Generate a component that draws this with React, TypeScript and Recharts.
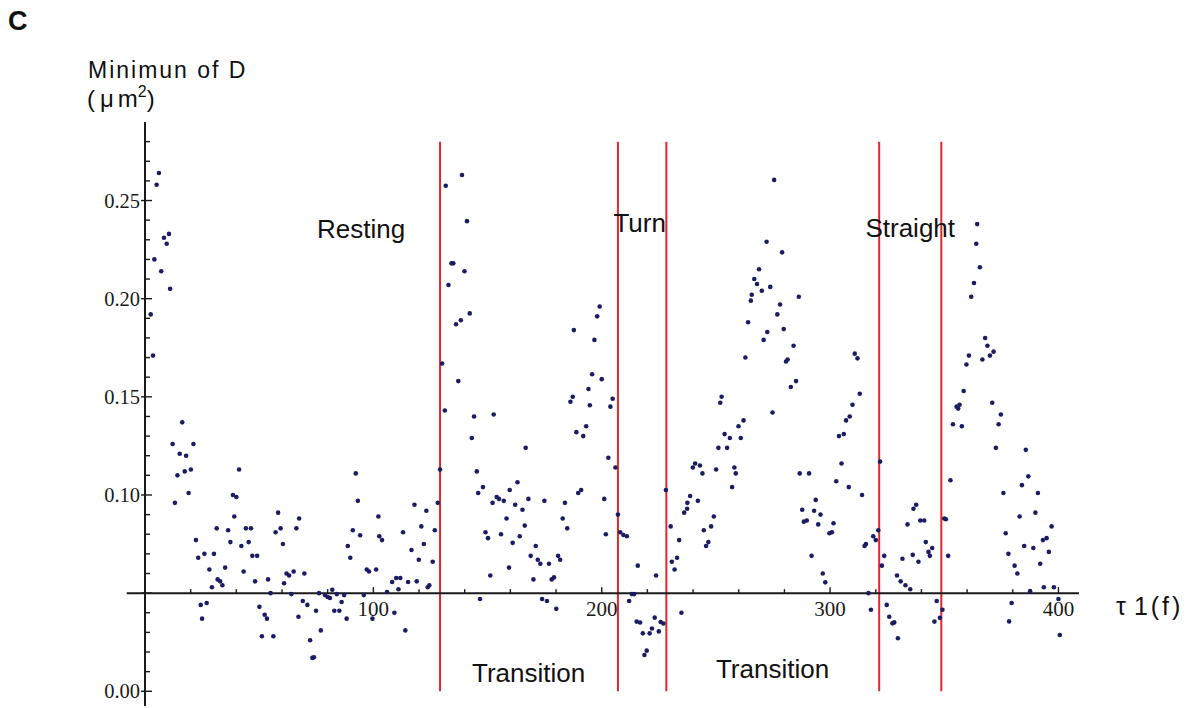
import React from 'react';
import { ScatterChart, Scatter, XAxis, YAxis, ReferenceLine, ReferenceDot } from 'recharts';

// tau 1 (frames)
const tau: number[] = [
  2.5, 3.5, 4.1, 5.1, 6.1, 7.1, 8.3, 9.5, 10.5, 11,
  12.1, 13.1, 14.2, 15.2, 16.3, 17.4, 18, 19.1, 20.1, 21.2,
  22.3, 23.3, 24.4, 25, 26, 27, 28.2, 29.3, 30.2, 31.4,
  31.8, 32.9, 33.9, 35.1, 36.4, 37.4, 38.5, 39.1, 40, 41.2,
  42.2, 43.2, 44.2, 45.4, 46.4, 47, 48.2, 49.1, 50.1, 51.2,
  52.4, 53.4, 53.9, 55, 56.2, 57.2, 58.3, 59.4, 60.4, 60.9,
  62, 63.1, 64.1, 65.1, 66.3, 67.2, 67.5, 69.1, 69.8, 71.1,
  72.3, 73.3, 74, 74.9, 76.2, 77, 78.8, 80, 81, 82,
  82.9, 84, 85.1, 86.1, 87.2, 88.3, 88.8, 89.9, 91, 92.3,
  93.2, 94.2, 95.8, 97.1, 98.1, 99.6, 101.2, 102.2, 102.6, 103.8,
  106, 108.2, 109.2, 110, 111, 111.8, 113, 114, 115.2, 116.7,
  118, 119, 119.9, 121, 122.1, 123.2, 123.8, 124.5, 126, 126.9,
  128.2, 129.2, 130.1, 131.3, 131.7, 132.9, 134.2, 135, 136.2, 137.2,
  138.3, 138.8, 139.9, 141, 142.2, 143.1, 144.1, 145.3, 145.9, 146.7,
  148, 149.1, 150.2, 151.2, 152.2, 152.7, 154, 155, 155.9, 157.1,
  158.3, 159.4, 159.7, 161, 162.1, 163.1, 164.1, 165.3, 166.3, 166.7,
  167.9, 168.9, 170.1, 171.1, 172, 173.1, 173.9, 174.9, 176, 176.9,
  178.1, 179.1, 180.1, 180.9, 181.8, 182.9, 183.9, 184.9, 186.3, 187.3,
  187.8, 188.9, 189.7, 191, 191.9, 193.2, 194.2, 194.8, 195.8, 196.8,
  198, 199.1, 200, 201.1, 201.8, 202.9, 203.8, 204.8, 206, 207.1,
  208.1, 209.5, 211, 212, 213.2, 214.2, 215.3, 215.8, 216.8, 218,
  218.7, 219.7, 221, 222, 223.2, 223.8, 225, 225.8, 227, 228.1,
  230.2, 230.7, 231.9, 233, 233.9, 234.9, 236.1, 237.4, 237.5, 238.7,
  239.9, 240.9, 242.1, 243, 244.1, 244.7, 245.7, 246.7, 247.9, 249.1,
  250.1, 251.1, 251.9, 252.5, 253.8, 254.9, 256.1, 257.1, 258.1, 258.7,
  259.9, 260.9, 262.1, 262.9, 264.1, 265.3, 265.7, 266.8, 268, 268.9,
  270.1, 270.9, 272.2, 272.5, 273.8, 274.8, 275.5, 276.9, 278.1, 279,
  279.7, 280.7, 281.4, 282.8, 284, 285.1, 286.3, 286.7, 287.8, 288.5,
  289.8, 290.8, 291.9, 293, 293.7, 294.8, 295.8, 296.8, 297.9, 299.7,
  300.8, 301.5, 302.7, 303.9, 305, 306, 307, 308.2, 308.6, 309.8,
  310.8, 312, 313, 314, 315.1, 315.7, 316.8, 317.9, 318.9, 320,
  321.1, 321.9, 322.7, 323.7, 324.8, 325.9, 327.3, 328.1, 329.3, 329.7,
  330.9, 331.7, 333, 333.9, 335.1, 336.2, 336.5, 337.7, 338.7, 339.5,
  341.2, 341.9, 343.1, 343.7, 344.7, 345.7, 346.7, 348.1, 349.2, 350,
  350.7, 351.7, 352.7, 353.8, 355.4, 356.1, 356.7, 357.7, 358.5, 359.7,
  360.8, 361.8, 363, 364, 364.4, 365.6, 366.7, 367.9, 368.9, 370,
  371, 371.6, 372.6, 373.8, 374.8, 375.9, 376.9, 378.1, 378.4, 379.5,
  380.8, 382, 383, 384, 385, 385.7, 386.8, 387.6, 389, 389.9,
  391, 392, 393.2, 393.6, 394.8, 395.8, 397, 398, 400, 400.6,
];

// Minimum of D (um^2)
const minD: number[] = [
  0.192, 0.171, 0.220, 0.258, 0.264, 0.214, 0.231, 0.228, 0.233, 0.205,
  0.126, 0.096, 0.110, 0.121, 0.137, 0.112, 0.120, 0.101, 0.113, 0.126,
  0.077, 0.068, 0.044, 0.037, 0.070, 0.045, 0.062, 0.053, 0.070, 0.083,
  0.057, 0.056, 0.054, 0.063, 0.082, 0.076, 0.100, 0.089, 0.099, 0.113,
  0.074, 0.061, 0.083, 0.076, 0.083, 0.069, 0.056, 0.069, 0.043, 0.028,
  0.039, 0.037, 0.057, 0.050, 0.028, 0.081, 0.091, 0.083, 0.075, 0.055,
  0.060, 0.059, 0.0495, 0.061, 0.083, 0.038, 0.088, 0.046, 0.060, 0.044,
  0.026, 0.017, 0.0173, 0.041, 0.050, 0.031, 0.049, 0.048, 0.0475, 0.0517,
  0.041, 0.0495, 0.041, 0.0455, 0.049, 0.037, 0.074, 0.068, 0.082, 0.111,
  0.097, 0.0795, 0.049, 0.062, 0.061, 0.037, 0.062, 0.089, 0.079, 0.077,
  0.0506, 0.0557, 0.040, 0.0577, 0.052, 0.0577, 0.081, 0.031, 0.0557, 0.072,
  0.095, 0.056, 0.067, 0.084, 0.075, 0.092, 0.053, 0.054, 0.066, 0.082,
  0.096, 0.113, 0.167, 0.143, 0.2575, 0.207, 0.218, 0.218, 0.187, 0.158,
  0.189, 0.263, 0.214, 0.2395, 0.1925, 0.129, 0.140, 0.112, 0.101, 0.047,
  0.104, 0.081, 0.078, 0.059, 0.096, 0.141, 0.099, 0.098, 0.080, 0.097,
  0.088, 0.063, 0.1025, 0.0756, 0.095, 0.1065, 0.079, 0.0925, 0.0844, 0.124,
  0.098, 0.069, 0.057, 0.074, 0.067, 0.065, 0.047, 0.097, 0.046, 0.065,
  0.057, 0.058, 0.042, 0.069, 0.067, 0.088, 0.096, 0.083, 0.1475, 0.150,
  0.184, 0.132, 0.101, 0.1025, 0.130, 0.135, 0.154, 0.1457, 0.1615, 0.179,
  0.191, 0.196, 0.159, 0.098, 0.080, 0.119, 0.145, 0.149, 0.114, 0.090,
  0.081, 0.0796, 0.079, 0.046, 0.0495, 0.0495, 0.0355, 0.064, 0.035, 0.0295,
  0.0185, 0.0207, 0.0295, 0.032, 0.0375, 0.059, 0.0305, 0.0353, 0.0345, 0.1025,
  0.084, 0.066, 0.062, 0.068, 0.077, 0.040, 0.091, 0.093, 0.096, 0.0995,
  0.114, 0.116, 0.097, 0.115, 0.111, 0.082, 0.074, 0.076, 0.084, 0.089,
  0.113, 0.124, 0.147, 0.150, 0.131, 0.124, 0.129, 0.104, 0.114, 0.111,
  0.135, 0.129, 0.138, 0.170, 0.188, 0.199, 0.202, 0.210, 0.2075, 0.215,
  0.204, 0.179, 0.229, 0.183, 0.206, 0.142, 0.2605, 0.192, 0.197, 0.2236,
  0.1845, 0.168, 0.169, 0.155, 0.176, 0.158, 0.201, 0.111, 0.0925, 0.0864,
  0.087, 0.111, 0.069, 0.092, 0.0975, 0.085, 0.090, 0.060, 0.0555, 0.0805,
  0.081, 0.0856, 0.107, 0.130, 0.116, 0.131, 0.138, 0.104, 0.140, 0.146,
  0.172, 0.1696, 0.1516, 0.100, 0.074, 0.075, 0.050, 0.0415, 0.079, 0.077,
  0.082, 0.117, 0.064, 0.069, 0.044, 0.038, 0.0346, 0.0351, 0.059, 0.027,
  0.056, 0.0675, 0.054, 0.085, 0.052, 0.0695, 0.093, 0.095, 0.066, 0.087,
  0.087, 0.076, 0.071, 0.069, 0.073, 0.0355, 0.046, 0.0374, 0.0415, 0.088,
  0.0876, 0.069, 0.1075, 0.136, 0.145, 0.144, 0.146, 0.135, 0.153, 0.1665,
  0.171, 0.201, 0.208, 0.228, 0.238, 0.216, 0.169, 0.180, 0.176, 0.171,
  0.147, 0.173, 0.124, 0.136, 0.141, 0.101, 0.0805, 0.070, 0.0356, 0.045,
  0.064, 0.060, 0.089, 0.105, 0.074, 0.123, 0.1095, 0.051, 0.073, 0.091,
  0.101, 0.065, 0.077, 0.053, 0.078, 0.071, 0.084, 0.053, 0.047, 0.0287,
];

// phase boundaries (tau 1)
const boundaries: number[] = [129.2, 207.1, 228.3, 321.5, 348.7];
const boundaryTop = 0.28;

// x axis (crosses the y axis at D = 0.05)
const xAxisCross = 0.05;
const xAxisStart = -8;
const xAxisEnd = 409;
const xMinorTicks: number[] = [20, 40, 60, 80, 120, 140, 160, 180, 220, 240, 260, 280, 320, 340, 360, 380];
const xMajorTicks: number[] = [100, 200, 300, 400];

// y axis
const yTicks: number[] = [
  0, 0.01, 0.02, 0.03, 0.04, 0.05, 0.06, 0.07, 0.08, 0.09, 0.1, 0.11, 0.12, 0.13, 0.14,
  0.15, 0.16, 0.17, 0.18, 0.19, 0.2, 0.21, 0.22, 0.23, 0.24, 0.25, 0.26, 0.27, 0.28,
];
const yLabelled: number[] = [0, 0.1, 0.15, 0.2, 0.25];
const yMajor: number[] = [0, 0.05, 0.1, 0.15, 0.2, 0.25];

// phase names with anchor (tau, D) at text baseline centre
const phaseNames: string[] = ['Resting', 'Turn', 'Straight', 'Transition', 'Transition'];
const phaseTau: number[] = [94.6, 216.6, 335.1, 168.0, 274.8];
const phaseD: number[] = [0.2309, 0.234, 0.2316, 0.0049, 0.0066];

const data = tau.map((t, i) => ({ x: t, y: minD[i] }));

const AXIS = '#1a1a1a';
const DOT = '#1c1c62';
const RED = '#e4262c';
const SERIF = '"Liberation Serif", "Times New Roman", serif';
const SANS = '"Liberation Sans", Arial, sans-serif';

const near = (a: number, b: number) => Math.abs(a - b) < 1e-9;

const YTick = (props: any) => {
  const { x, y, payload } = props;
  const v: number = payload.value;
  const major = yMajor.some((m) => near(m, v));
  const labelled = yLabelled.some((m) => near(m, v));
  return (
    <g>
      <line x1={major ? x - 4 : x} x2={x + (major ? 7 : 5)} y1={y} y2={y} stroke={AXIS} strokeWidth={1.4} />
      {labelled && (
        <text x={x - 5} y={y} textAnchor="end" dominantBaseline="central" fontFamily={SERIF} fontSize={20.5} fill={AXIS}>
          {v.toFixed(2)}
        </text>
      )}
    </g>
  );
};

const DotShape = (props: any) => <circle cx={props.cx} cy={props.cy} r={2.3} fill={DOT} />;

const minorTickShape = (p: any) => (
  <line x1={p.cx} x2={p.cx} y1={p.cy} y2={p.cy - 4} stroke={AXIS} strokeWidth={1.4} />
);

const majorTickShape = (label: string) => (p: any) => (
  <g>
    <line x1={p.cx} x2={p.cx} y1={p.cy} y2={p.cy - 6} stroke={AXIS} strokeWidth={1.4} />
    <text x={p.cx} y={p.cy + 23} textAnchor="middle" fontFamily={SERIF} fontSize={21} fill={AXIS}>
      {label}
    </text>
  </g>
);

const phaseShape = (name: string) => (p: any) => (
  <text x={p.cx} y={p.cy} textAnchor="middle" fontFamily={SANS} fontSize={26} fill="#111">
    {name}
  </text>
);

export default function App() {
  return (
    <div style={{ position: 'absolute', left: 0, top: 0, width: 1194, height: 708, background: '#fff' }}>
      <ScatterChart
        width={1194}
        height={708}
        margin={{ top: 122, right: 115, bottom: 2, left: 85 }}
      >
        <XAxis type="number" dataKey="x" domain={[0, 409]} allowDataOverflow hide />
        <YAxis
          type="number"
          dataKey="y"
          domain={[-0.0075, 0.29]}
          allowDataOverflow
          ticks={yTicks}
          interval={0}
          tickSize={0}
          tickMargin={0}
          tickLine={false}
          axisLine={{ stroke: AXIS, strokeWidth: 2 }}
          tick={<YTick />}
          width={60}
        />
        {boundaries.map((b, i) => (
          <ReferenceLine
            key={'b' + i}
            segment={[{ x: b, y: 0 }, { x: b, y: boundaryTop }]}
            stroke={RED}
            strokeWidth={2}
            ifOverflow="visible"
          />
        ))}
        <ReferenceLine
          segment={[{ x: xAxisStart, y: xAxisCross }, { x: xAxisEnd, y: xAxisCross }]}
          stroke={AXIS}
          strokeWidth={2}
          ifOverflow="visible"
        />
        {xMinorTicks.map((t) => (
          <ReferenceDot key={'m' + t} x={t} y={xAxisCross} r={1} ifOverflow="visible" shape={minorTickShape} />
        ))}
        {xMajorTicks.map((t) => (
          <ReferenceDot key={'M' + t} x={t} y={xAxisCross} r={1} ifOverflow="visible" shape={majorTickShape(String(t))} />
        ))}
        <Scatter data={data} shape={DotShape} isAnimationActive={false} />
        {phaseNames.map((n, i) => (
          <ReferenceDot key={'p' + i} x={phaseTau[i]} y={phaseD[i]} r={1} ifOverflow="visible" shape={phaseShape(n)} />
        ))}
      </ScatterChart>
      <svg
        width={1194}
        height={708}
        style={{ position: 'absolute', left: 0, top: 0, pointerEvents: 'none' }}
      >
        <text x={8} y={30} fontFamily={SANS} fontWeight="bold" fontSize={27} fill="#111">C</text>
        <text x={88} y={78} fontFamily={SANS} fontSize={23} letterSpacing={2} fill="#111">Minimun of D</text>
        <text x={87} y={107} fontFamily={SANS} fontSize={24} fill="#111">
          (<tspan dx={5}>μ</tspan>
          <tspan dx={4}>m</tspan>
          <tspan dy={-10} fontSize={16}>2</tspan>
          <tspan dy={10}>)</tspan>
        </text>
        <text x={1116} y={615} fontFamily={SANS} fontSize={25} fill="#111">
          τ<tspan dx={8} letterSpacing={3}>1(f)</tspan>
        </text>
      </svg>
    </div>
  );
}
